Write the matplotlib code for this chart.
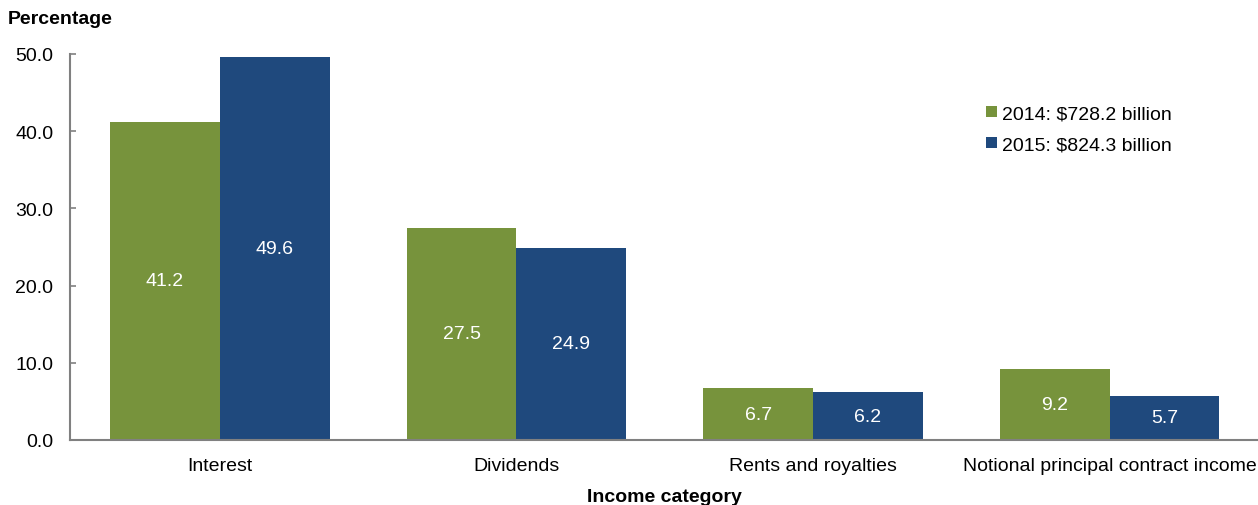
import matplotlib
matplotlib.use("Agg")
import matplotlib.pyplot as plt
import numpy as np

plt.rcParams['font.family'] = ['Liberation Sans', 'DejaVu Sans']

categories = ["Interest", "Dividends", "Rents and royalties", "Notional principal contract income"]
series_names = ["2014: $728.2 billion", "2015: $824.3 billion"]
values_2014 = [41.2, 27.5, 6.7, 9.2]
values_2015 = [49.6, 24.9, 6.2, 5.7]
yticks = [0, 10, 20, 30, 40, 50]
colors = ["#77933C", "#1F497D"]

FS = 14

fig = plt.figure(figsize=(12.58, 5.06), dpi=100)
ax = fig.add_axes([70/1258, 1-441/506, 1188/1258, 386/506])

x = np.arange(len(categories))
w = 0.37
b1 = ax.bar(x - w/2, values_2014, w, color=colors[0], label=series_names[0])
b2 = ax.bar(x + w/2, values_2015, w, color=colors[1], label=series_names[1])

for bars, vals in ((b1, values_2014), (b2, values_2015)):
    for rect, v in zip(bars, vals):
        ax.text(rect.get_x() + rect.get_width()/2, v/2, f"{v:.1f}",
                ha="center", va="center", color="white", fontsize=FS)

ax.set_xlim(-0.505, 3.5)
ax.set_ylim(0, 50)
ax.set_yticks(yticks)
ax.set_yticklabels([f"{t:.1f}" for t in yticks], fontsize=FS)
ax.set_xticks(x)
ax.set_xticklabels(categories, fontsize=FS)
ax.tick_params(axis="x", length=0, pad=12)
ax.tick_params(axis="y", length=4, width=1.2, color="#808080", pad=12, direction="in")

for s in ("top", "right"):
    ax.spines[s].set_visible(False)
for s in ("left", "bottom"):
    ax.spines[s].set_color("#808080")
    ax.spines[s].set_linewidth(1.5)

ax.set_xlabel("Income category", fontsize=FS, fontweight="bold", labelpad=10)
fig.text(8/1258, 1-19/506, "Percentage", fontsize=FS, fontweight="bold", ha="left", va="center")

ax.legend(loc="upper left", bbox_to_anchor=(0.771, 0.867), frameon=False, fontsize=FS,
          handlelength=0.55, handleheight=0.55, handletextpad=0.3, labelspacing=0.72,
          borderaxespad=0, borderpad=0)

fig.savefig("out.png", dpi=100)
